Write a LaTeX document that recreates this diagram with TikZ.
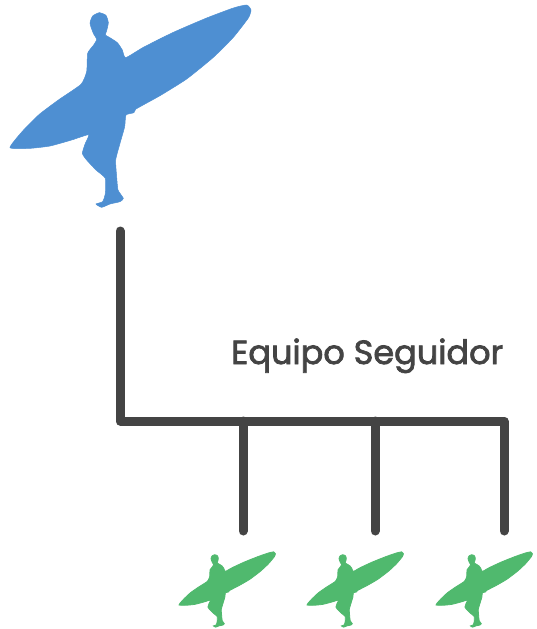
\documentclass[tikz,border=0pt]{standalone}
\usepackage{fontspec}
\newfontfamily\labelfont[BoldFont=Poppins,BoldFeatures={FakeBold=2.2}]{Poppins}
\definecolor{leadblue}{HTML}{4E8FD2}
\definecolor{teamgreen}{HTML}{50B96E}
\definecolor{linegrey}{HTML}{444444}
\newcommand{\surfershape}{plot[smooth cycle,tension=0.32] coordinates {
 (270,70)(278,48)(298,38)(318,46)(325,68)(320,92)(316,105)(328,112)(352,128)(367,150)(377,173)
 (430,142)(520,97)(620,54)(700,24)(740,15)(753,30)(745,54)(700,112)(640,172)(560,237)(480,287)(408,327)(402,338)(378,345)
 (374,380)(360,430)(347,480)(350,530)(354,570)(370,595)(360,605)(330,612)(305,622)(288,612)(308,605)(316,580)(316,535)(288,510)(260,480)(247,460)(256,430)(266,404)
 (215,420)(150,438)(90,445)(30,443)(68,393)(118,343)(178,298)(243,253)
 (260,215)(263,160)(281,135)(290,118)(280,100)}}
\tikzset{
 link/.style={line width=9pt,linegrey,line cap=round,line join=round},
 lead/.style={fill=leadblue,draw=leadblue,line width=.5pt,xscale=1/3,yscale=1/3},
 follower/.style={fill=teamgreen,draw=teamgreen,line width=.8pt,xscale=.4/3,yscale=.372/3}
}
\begin{document}
\begin{tikzpicture}[x=1pt,y=-1pt]
\useasboundingbox (0,0) rectangle (536,629);
\path[lead] \surfershape;
\coordinate (g1) at (175,550);
\coordinate (g2) at (303,550);
\coordinate (g3) at (432,550);
\begin{scope}[shift={(g1)}]\path[follower] \surfershape;\end{scope}
\begin{scope}[shift={(g2)}]\path[follower] \surfershape;\end{scope}
\begin{scope}[shift={(g3)}]\path[follower] \surfershape;\end{scope}
\coordinate (top) at (120,231);
\coordinate (corner) at (120,421);
\coordinate (j1) at (243,421);
\coordinate (j2) at (375,421);
\coordinate (j3) at (504,421);
\coordinate (e1) at (243,531);
\coordinate (e2) at (375,531);
\coordinate (e3) at (504,531);
\draw[link] (top) -- (corner) -- (j3) -- (e3);
\draw[link] (j1) -- (e1);
\draw[link] (j2) -- (e2);
\node[anchor=base west,inner sep=0pt,text=linegrey,font=\labelfont\bfseries\fontsize{33.5}{36}\selectfont] (label) at (231,364) {Equipo Seguidor};
\end{tikzpicture}
\end{document}
